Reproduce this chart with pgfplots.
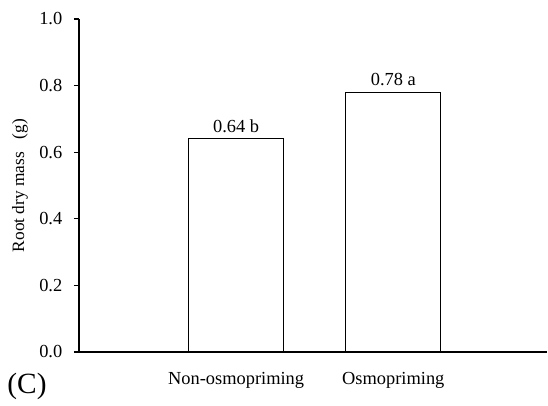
\documentclass[border=0pt]{standalone}
\usepackage{pgfplots}
\pgfplotsset{compat=1.18}
\usepackage{fontspec}
\setmainfont{Liberation Serif}
\begin{document}
\begin{tikzpicture}
\begin{axis}[
  at={(0,0)}, anchor=south west,
  scale only axis,
  width=351pt, height=249.75pt,
  xmin=0, xmax=2.978, ymin=0, ymax=1,
  axis x line=bottom, axis y line=left,
  axis line style={-, line width=0.9pt},
  xtick={1,2},
  xticklabels={Non-osmopriming, Osmopriming},
  x tick style={line width=0.8pt, black},
  y tick style={line width=0.8pt, black},
  xtick align=inside,
  ytick align=outside,
  major tick length=3.75pt,
  ytick={0,0.2,0.4,0.6,0.8,1.0},
  yticklabel style={/pgf/number format/fixed, /pgf/number format/fixed zerofill, /pgf/number format/precision=1, /pgf/number format/assume math mode=true, font=\fontsize{13.8pt}{15pt}\selectfont, xshift=-5.25pt},
  xticklabel style={font=\fontsize{13.8pt}{15pt}\selectfont, yshift=-11.5pt},
  ylabel={Root dry mass\ \ \ (g)},
  ylabel style={at={(axis description cs:-0.1263,0.5)}, anchor=center, font=\fontsize{13pt}{15pt}\selectfont},
  clip=false,
]
\addplot[ybar, bar width=0.605, fill=white, draw=black, line width=0.9pt,
  point meta=explicit symbolic,
  nodes near coords,
  every node near coord/.append style={font=\fontsize{13.8pt}{15pt}\selectfont, black, yshift=1pt}]
  coordinates {(1,0.64) [0.64 b] (2,0.78) [0.78 a]};
\end{axis}
\node[font=\fontsize{22pt}{26pt}\selectfont] at (-39pt,-25.5pt) {(C)};
\pgfresetboundingbox
\path[use as bounding box] (-59.25pt,-39.75pt) rectangle (351.75pt,264pt);
\end{tikzpicture}
\end{document}
